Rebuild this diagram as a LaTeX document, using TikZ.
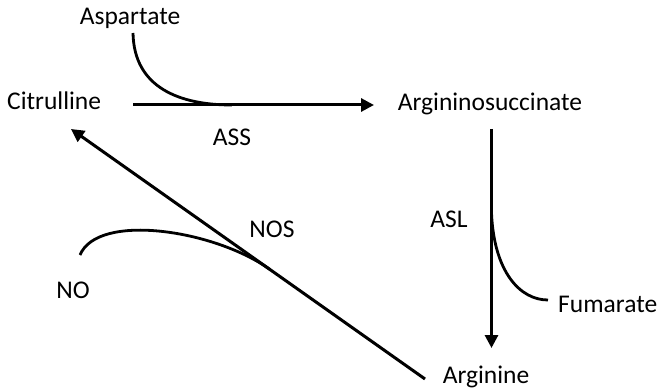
\documentclass[tikz,border=0pt]{standalone}
\usepackage{fontspec}
\setmainfont{Carlito}
\usetikzlibrary{arrows.meta}
\begin{document}
\begin{tikzpicture}[x=1pt,y=-1pt,
  lbl/.style={font=\fontsize{25.5}{30}\selectfont, inner sep=0pt, anchor=base},
  rxn/.style={line width=3pt, -{Triangle[length=13pt,width=13pt]}},
  side/.style={line width=2.8pt}]
\useasboundingbox (0,0) rectangle (660,390);
\node[lbl] (asp) at (130,25) {Aspartate};
\node[lbl, anchor=base west] (cit) at (7,110) {Citrulline};
\node[lbl] (ass) at (232,146) {ASS};
\node[lbl] (ags) at (490,111) {Argininosuccinate};
\node[lbl] (asl) at (449,227) {ASL};
\node[lbl, anchor=base west] (fum) at (558,312) {Fumarate};
\node[lbl] (arg) at (486,383) {Arginine};
\node[lbl] (nos) at (272,237) {NOS};
\node[lbl] (no) at (73,298) {NO};
% connector end points
\coordinate (h1) at (133,105);
\coordinate (h2) at (374,105);
\coordinate (a1) at (133,33);
\coordinate (a2) at (232,105);
\coordinate (v1) at (491.5,129);
\coordinate (v2) at (491.5,348);
\coordinate (f1) at (491.5,213);
\coordinate (f2) at (548,300);
\coordinate (d1) at (425,379);
\coordinate (d2) at (71,129);
\coordinate (n1) at (80,255);
\coordinate (n2) at (270,269.5);
% reactions
\draw[rxn] (h1) -- (h2);
\draw[rxn] (v1) -- (v2);
\draw[rxn] (d1) -- (d2);
% side substrates/products
\draw[side] (a1) .. controls (134,88) and (180,105) .. (a2);
\draw[side] (f1) .. controls (494,272) and (520,300) .. (f2);
\draw[side] (n1) .. controls (98,212) and (215,230) .. (n2);
\end{tikzpicture}
\end{document}
